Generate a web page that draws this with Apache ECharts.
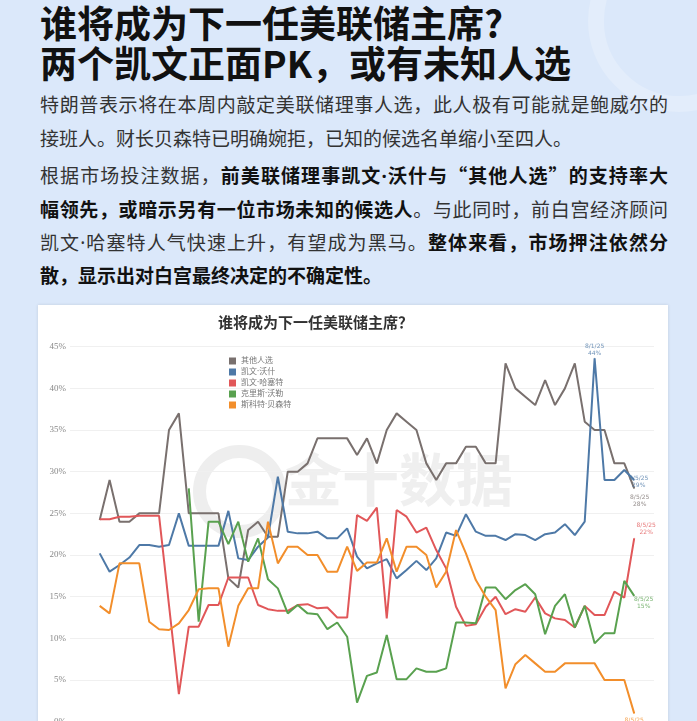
<!DOCTYPE html>
<html lang="zh-CN"><head><meta charset="utf-8">
<script src="https://cdn.jsdelivr.net/npm/echarts@6/dist/echarts.min.js"></script>
<style>
html,body{margin:0;padding:0;width:697px;height:721px;overflow:hidden;background:#dbe8fa;font-family:"Noto Sans CJK SC","Noto Sans",sans-serif;}
#page{position:relative;width:697px;height:721px;overflow:hidden;}
.deco{position:absolute;left:588px;top:-70px;width:150px;height:150px;border-radius:50%;border:16px solid rgba(255,255,255,0.22);}
.h1{position:absolute;left:40px;font-size:37px;font-weight:700;color:#111;line-height:40px;white-space:nowrap;}
.p{position:absolute;left:40px;width:628px;font-size:19px;line-height:34px;height:34px;color:#333;overflow:visible;}
.j{text-align:justify;text-align-last:justify;}
.d{font-family:"Noto Sans",sans-serif;}
b{font-weight:700;color:#111;}
#card{position:absolute;left:38px;top:305px;width:630px;height:470px;background:#fff;box-shadow:0 0 3px rgba(0,0,0,0.12);}
#chart{position:absolute;left:0;top:0;width:630px;height:470px;}
</style>
</head><body>
<div id="page">
<div class="deco"></div>
<div class="h1" style="top:1.5px">谁将成为下一任美联储主席?</div>
<div class="h1" style="top:41.5px">两个凯文正面PK，或有未知人选</div>
<div class="p j" style="top:87px">特朗普表示将在本周内敲定美联储理事人选，此人极有可能就是鲍威尔的</div>
<div class="p" style="top:121px">接班人。财长贝森特已明确婉拒，已知的候选名单缩小至四人。</div>
<div class="p j" style="top:158px">根据市场投注数据，<b>前美联储理事凯文<span class="d">·</span>沃什与“其他人选”的支持率大</b></div>
<div class="p j" style="top:192px"><b>幅领先，或暗示另有一位市场未知的候选人</b>。与此同时，前白宫经济顾问</div>
<div class="p j" style="top:225px">凯文<span class="d">·</span>哈塞特人气快速上升，有望成为黑马。<b>整体来看，市场押注依然分</b></div>
<div class="p" style="top:258px"><b>散，显示出对白宫最终决定的不确定性。</b></div>
<div id="card"><div id="chart"></div></div>
</div>
<script>
// ---- data ----
const dates = [
 '2025-06-12','2025-06-13','2025-06-14','2025-06-15','2025-06-16','2025-06-17','2025-06-18','2025-06-19','2025-06-20','2025-06-21',
 '2025-06-22','2025-06-23','2025-06-24','2025-06-25','2025-06-26','2025-06-27','2025-06-28','2025-06-29','2025-06-30','2025-07-01',
 '2025-07-02','2025-07-03','2025-07-04','2025-07-05','2025-07-06','2025-07-07','2025-07-08','2025-07-09','2025-07-10','2025-07-11',
 '2025-07-12','2025-07-13','2025-07-14','2025-07-15','2025-07-16','2025-07-17','2025-07-18','2025-07-19','2025-07-20','2025-07-21',
 '2025-07-22','2025-07-23','2025-07-24','2025-07-25','2025-07-26','2025-07-27','2025-07-28','2025-07-29','2025-07-30','2025-07-31',
 '2025-08-01','2025-08-02','2025-08-03','2025-08-04','2025-08-05'];
const seriesNames = ['其他人选','凯文·沃什','凯文·哈塞特','克里斯·沃勒','斯科特·贝森特'];
const otherVals = [24.2,29,24,24,25,25,25,35,37,25,25,25,25,17.2,16.1,23,24,22.2,22.2,30,30,31,34,34,34,34,32,34,31,35,37,36,35,31,29,31,31,33,33,31,31,43,40,39,38,41,38,40,43,36,35,35,31,31,28];
const warshVals = [20.2,18,18.8,19.7,21.2,21.2,21,21.2,25,21.1,21.1,21.1,21.1,25.3,19.6,19.4,21,22.1,29.4,22.8,22.6,22.6,22.8,22,22,23.2,19.8,18.4,19,19.5,17.2,18.2,19.3,18.2,19.6,22.7,22.3,24.9,22.8,22.3,22.3,21.8,22.5,22.4,21.8,22.5,22.7,23.7,22.4,24,43.6,29,29,30.2,29];
const hassettVals = [24.3,24.3,24.6,24.6,24.7,24.7,24.7,14,3.3,11.4,11.4,14,14,17.3,17.3,17.3,14,13.5,13.3,13.3,14,14.1,13.6,13.7,12.5,12.5,24.8,24.1,25.7,12.4,25.4,24.6,22.7,23.3,20.6,18.4,13.8,11.5,11.7,13.8,15,12.9,13.5,13.2,14.9,13,12.4,12.2,11.3,13.9,12.8,12.8,15.6,14.9,22];
const wallerVals = [null,null,null,null,null,null,null,null,null,28,12,24,24,21.3,24,19.2,22,17.1,16,13,14,13,12.9,11.1,11.9,10.2,2.3,5.5,5.9,10.4,5.1,5.1,6.4,6,6,6.4,11.9,11.9,11.8,16.1,16.1,14.7,15.8,16.5,15.3,10.5,13.9,15.3,11.3,13.9,9.4,10.6,10.6,16.9,15.1];
const bessentVals = [13.9,13,19,19,19,12,11.1,11,11.8,13.4,15.9,16,16,9,13.9,16,16,24,19,21,21,20,20,18,18,21,18.1,19.1,19.1,22,18,21,21,20,16.1,18,23,20.2,17,15,13.4,4,6.9,8,7,6,6,7,7,7,7,5,5,5,1];
const yTicks = [0,5,10,15,20,25,30,35,40,45];
// annotated points: [series index, date index]
const annotated = [[1,50],[0,54],[1,54],[2,54],[3,54],[4,54]];

// ---- styles ----
const colors = ['#79706e','#4e79a7','#e15759','#59a14f','#f28e2b'];
const allVals = [otherVals, warshVals, hassettVals, wallerVals, bessentVals];
const labelStyle = {
  '1-50': {position:'top', distance:1, offset:[0,0]},
  '0-54': {position:'right', distance:5, offset:[0,13]},
  '1-54': {position:'right', distance:4, offset:[0,2]},
  '2-54': {position:'top', distance:2, offset:[12,0]},
  '3-54': {position:'right', distance:9, offset:[0,7]},
  '4-54': {position:'bottom', distance:3, offset:[0,0]}
};
function fmtDate(s){const p=s.split('-');return (+p[1])+'/'+(+p[2])+'/'+p[0].slice(2);}

const lineSeries = allVals.map((vals, k) => ({
  name: seriesNames[k], type:'line', data: dates.map((d,i)=>[d, vals[i]]),
  showSymbol:false, symbol:'none', connectNulls:false,
  lineStyle:{width:2, color:colors[k]}, itemStyle:{color:colors[k]},
  emphasis:{disabled:true}, z: 2 + k
}));
const labelSeries = annotated.map(([k,i]) => {
  const st = labelStyle[k+'-'+i];
  return {
    type:'scatter', name:'lbl'+k+'_'+i, silent:true, symbolSize:1,
    itemStyle:{color:colors[k]}, z: 20,
    data:[[dates[i], allVals[k][i]]],
    label:{show:true, position:st.position, distance:st.distance, offset:st.offset,
      fontSize:6, lineHeight:7, color:colors[k], align:'center',
      fontFamily:'DejaVu Sans',
      formatter:(p)=>fmtDate(p.value[0])+'\n'+Math.round(p.value[1])+'%'}
  };
});

const chart = echarts.init(document.getElementById('chart'), null, {renderer:'canvas'});
chart.setOption({
  animation:false,
  backgroundColor:'#fff',
  title:{text:'谁将成为下一任美联储主席？', left:180, top:10, padding:0,
    textStyle:{fontSize:15, fontWeight:'bold', color:'#333', fontFamily:'Noto Sans CJK SC'}},
  legend:{data:seriesNames, orient:'vertical', left:186, top:47, itemWidth:7, itemHeight:7, itemGap:3,
    icon:'rect', selectedMode:false,
    textStyle:{fontSize:8, lineHeight:8, color:'#777', fontFamily:'"Noto Sans", "Noto Sans CJK SC", sans-serif'}},
  graphic:[
    {type:'circle', left:155, top:140, z:0, silent:true,
     shape:{r:40}, style:{fill:null, stroke:'#eeeeee', lineWidth:13}},
    {type:'text', left:247, top:146, z:0, silent:true,
     style:{text:'金十数据', fontSize:57, fontWeight:'bold', fill:'#efefef', fontFamily:'Noto Sans CJK SC'}}
  ],
  grid:{left:32, right:14, top:41.7, bottom:53.3},
  xAxis:{type:'time', min:'2025-06-09', max:'2025-08-07', show:false, splitLine:{show:false}},
  yAxis:{type:'value', min:yTicks[0], max:yTicks[yTicks.length-1], interval:5,
    axisLine:{show:false}, axisTick:{show:false},
    axisLabel:{formatter:'{value}%', fontSize:9, color:'#888', margin:4, fontFamily:'Liberation Serif'},
    splitLine:{lineStyle:{color:'#f0f0f0', width:1}}},
  series: lineSeries.concat(labelSeries)
});
</script>
</body></html>
